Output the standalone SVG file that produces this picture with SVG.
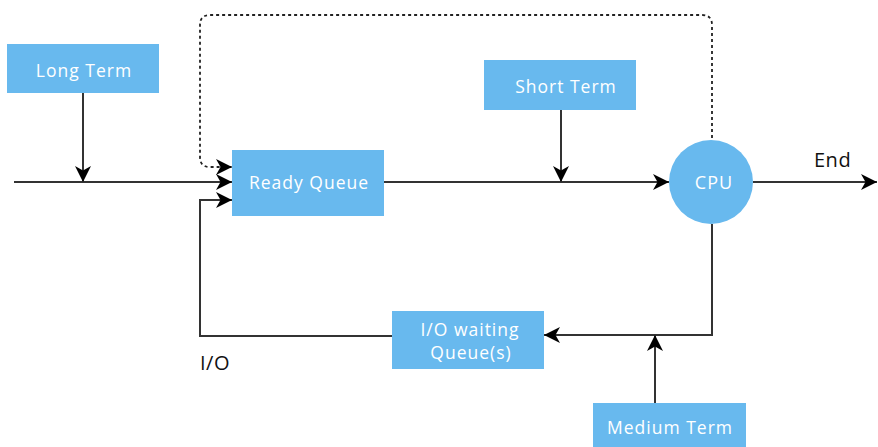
<svg xmlns="http://www.w3.org/2000/svg" width="878" height="447" viewBox="0 0 878 447">
<style>
.box{fill:#68b9ee;}
.lbl{font-family:"Open Sans","Liberation Sans",sans-serif;font-size:17.5px;font-weight:500;fill:#ffffff;text-anchor:middle;letter-spacing:1px;}
.txt{font-family:"Open Sans","Liberation Sans",sans-serif;font-size:20px;font-weight:500;fill:#111111;letter-spacing:0.5px;}
.ln{fill:none;stroke:#333333;stroke-width:2;}
.dot{fill:none;stroke:#222222;stroke-width:1.8;stroke-dasharray:3 3;}
</style>
<defs>
<marker id="ah" markerUnits="userSpaceOnUse" markerWidth="17" markerHeight="16" refX="16" refY="8" orient="auto">
<path d="M0,0 L16,8 L0,16 L4.5,8 Z" fill="#000000"/>
</marker>
</defs>
<rect width="878" height="447" fill="#ffffff"/>
<g id="connectors">
<path class="ln" d="M14,182 H232" marker-end="url(#ah)"/>
<path class="ln" d="M83,93 V182" marker-end="url(#ah)"/>
<path class="ln" d="M384,182 H669" marker-end="url(#ah)"/>
<path class="ln" d="M561,110 V182" marker-end="url(#ah)"/>
<path class="ln" d="M753,182 H877" marker-end="url(#ah)"/>
<path class="dot" d="M712,138 V25 Q712,15 702,15 H210 Q200,15 200,25 V157 Q200,167 210,167 H232" marker-end="url(#ah)"/>
<path class="ln" d="M712,224 V335 H544" marker-end="url(#ah)"/>
<path class="ln" d="M655,403 V335" marker-end="url(#ah)"/>
<path class="ln" d="M392,336 H200 V200 H232" marker-end="url(#ah)"/>
</g>
<g id="long-term">
<rect class="box" x="7" y="44" width="152" height="49"/>
<text class="lbl" x="84" y="77">Long Term</text>
</g>
<g id="ready-queue">
<rect class="box" x="232" y="150" width="152" height="66"/>
<text class="lbl" x="309" y="189">Ready Queue</text>
</g>
<g id="short-term">
<rect class="box" x="484" y="60" width="152" height="50"/>
<text class="lbl" x="566" y="93">Short Term</text>
</g>
<g id="cpu">
<circle cx="711" cy="182" r="42" fill="#68b9ee"/>
<text class="lbl" x="714" y="189" style="font-size:18px">CPU</text>
</g>
<g id="end">
<text class="txt" x="814" y="167">End</text>
</g>
<g id="io-queue">
<rect class="box" x="392" y="311" width="152" height="58"/>
<text class="lbl" x="470" y="336">I/O waiting</text>
<text class="lbl" x="471" y="359">Queue(s)</text>
</g>
<g id="io-label">
<text class="txt" x="200" y="370">I/O</text>
</g>
<g id="medium-term">
<rect class="box" x="593" y="403" width="153" height="50"/>
<text class="lbl" x="670" y="434">Medium Term</text>
</g>
</svg>
